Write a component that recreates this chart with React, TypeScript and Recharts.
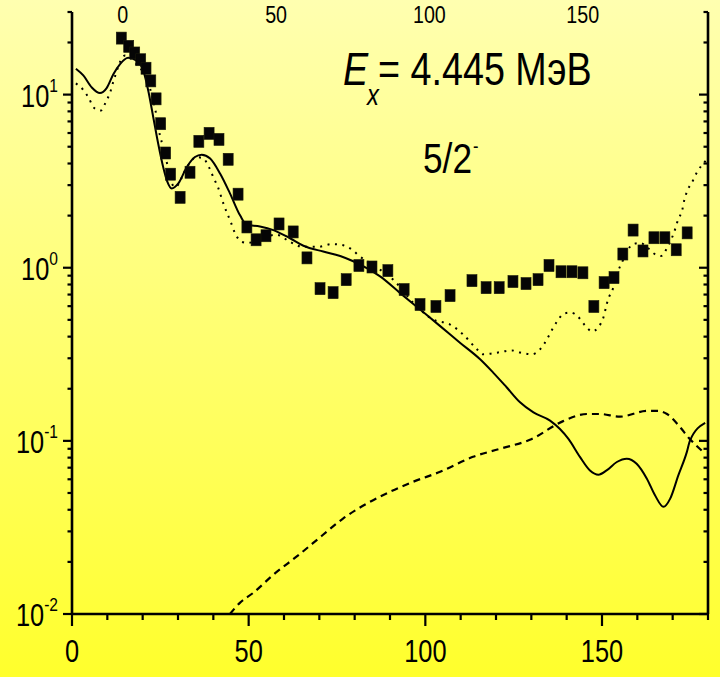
import React from 'react';
import { ComposedChart, Line, Scatter, XAxis, YAxis } from 'recharts';

const FONT = "'Liberation Sans', Arial, sans-serif";

// Experimental cross-section points [angle, value]
const measured: [number, number][] = [
  [13.95, 21.2], [16.05, 19.0], [17.75, 17.4], [19.45, 15.9], [20.95, 14.2], [22.3, 12.0],
  [23.8, 9.45], [25.1, 6.79], [26.5, 4.6], [27.9, 3.47], [30.6, 2.55], [33.4, 3.56],
  [35.9, 5.37], [38.8, 5.97], [41.6, 5.51], [44.2, 4.23], [47.0, 2.66], [49.5, 1.72],
  [52.1, 1.45], [54.9, 1.53], [58.6, 1.79], [62.6, 1.61], [66.5, 1.14], [70.2, 0.757],
  [73.9, 0.718], [77.6, 0.853], [81.2, 1.03], [84.9, 1.01], [89.4, 0.962], [94.0, 0.748],
  [98.5, 0.613], [103.0, 0.597], [107.0, 0.69], [113.2, 0.842], [117.2, 0.767], [120.9, 0.767],
  [124.8, 0.832], [128.5, 0.81], [131.9, 0.853], [135.0, 1.03], [138.4, 0.948], [141.5, 0.948],
  [144.6, 0.935], [147.7, 0.597], [150.6, 0.82], [153.4, 0.877], [155.9, 1.2], [158.8, 1.65],
  [161.6, 1.25], [164.7, 1.49], [167.8, 1.49], [171.0, 1.27], [174.1, 1.59],
];

// Solid curve [angle, value]
const solidCurve: [number, number][] = [
  [1.1, 14.1], [3.2, 12.9], [5.6, 11.0], [7.9, 10.2], [9.8, 10.9], [11.7, 13.1], [13.6, 15.0],
  [15.9, 16.3], [18.3, 15.7], [20.2, 13.7], [21.6, 10.5], [23.0, 7.4], [24.4, 5.2], [25.8, 3.82],
  [27.0, 3.13], [28.2, 2.87], [30.1, 3.07], [32.5, 3.82], [34.8, 4.36], [36.7, 4.5], [39.1, 4.27],
  [41.9, 3.5], [44.7, 2.69], [47.6, 2.0], [49.4, 1.77], [53.2, 1.73], [57.0, 1.65], [61.7, 1.48],
  [65.5, 1.34], [71.1, 1.24], [75.9, 1.17], [79.6, 1.09], [83.4, 0.995], [87.2, 0.891],
  [92.8, 0.716], [98.5, 0.574], [104.2, 0.46], [109.8, 0.369], [115.5, 0.296], [119.2, 0.248],
  [123.0, 0.204], [126.8, 0.167], [130.6, 0.146], [135.3, 0.131], [138.1, 0.117], [140.5, 0.1026],
  [143.8, 0.0806], [146.6, 0.0675], [149.0, 0.0638], [151.3, 0.0675], [154.2, 0.0755],
  [157.0, 0.0789], [159.8, 0.0738], [162.7, 0.0605], [165.0, 0.0485], [167.4, 0.0416],
  [169.3, 0.0464], [171.6, 0.0632], [174.0, 0.0861], [174.9, 0.1004], [179.2, 0.127],
];

// Dotted curve [angle, value]
const dottedCurve: [number, number][] = [
  [1.1, 11.6], [3.1, 10.7], [4.8, 9.5], [6.2, 8.4], [8.2, 8.1], [9.6, 9.1], [10.8, 10.3],
  [11.6, 11.7], [15.0, 16.8], [17.8, 15.3], [22.0, 11.0], [24.0, 7.4], [24.9, 5.8], [25.8, 5.0],
  [26.9, 4.0], [27.7, 3.33], [29.2, 2.92], [32.5, 3.8], [35.1, 4.35], [37.0, 4.3], [38.8, 3.8],
  [40.0, 3.33], [41.3, 2.92], [43.0, 2.3], [45.0, 1.82], [46.1, 1.59], [48.1, 1.41], [49.8, 1.39],
  [53.5, 1.48], [57.9, 1.55], [61.7, 1.41], [65.4, 1.32], [69.6, 1.32], [73.6, 1.37], [75.9, 1.36],
  [79.3, 1.27], [81.5, 1.16], [83.8, 1.08], [87.2, 0.974], [90.9, 0.853], [96.5, 0.63],
  [102.2, 0.502], [107.0, 0.47], [110.7, 0.412], [114.6, 0.338], [116.3, 0.316], [120.6, 0.324],
  [124.5, 0.333], [126.8, 0.324], [130.2, 0.316], [132.5, 0.338], [134.4, 0.386], [135.9, 0.44],
  [137.3, 0.49], [139.3, 0.544], [141.2, 0.551], [143.2, 0.522], [145.2, 0.464], [147.2, 0.429],
  [148.9, 0.452], [150.3, 0.509], [151.7, 0.655], [153.1, 0.757], [154.5, 0.949], [155.7, 1.08],
  [158.8, 1.37], [160.8, 1.39], [162.7, 1.32], [164.4, 1.22], [166.7, 1.17], [168.4, 1.3],
  [169.8, 1.49], [170.7, 1.67], [171.5, 1.89], [172.7, 2.15], [173.3, 2.46], [174.1, 2.77],
  [175.5, 3.12], [176.9, 3.56], [179.5, 4.18],
];

// Dashed curve [angle, value]
const dashedCurve: [number, number][] = [
  [44.7, 0.01], [47.5, 0.0116], [51.2, 0.0132], [56.9, 0.0168], [64.0, 0.0218], [70.8, 0.0284],
  [76.7, 0.0356], [83.5, 0.0435], [90.1, 0.0509], [96.6, 0.0581], [104.2, 0.0663], [113.5, 0.0809],
  [121.1, 0.09], [129.6, 0.1014], [139.0, 0.13], [145.8, 0.143], [149.4, 0.143], [155.1, 0.138],
  [162.8, 0.149], [165.6, 0.149], [168.4, 0.143], [172.1, 0.12], [174.4, 0.105], [178.7, 0.0861],
];

const bottomTicks = [0, 10, 20, 30, 40, 50, 60, 70, 80, 90, 100, 110, 120, 130, 140, 150, 160, 170, 180];
const bottomLabels = [0, 50, 100, 150];
const topLabels = [0, 50, 100, 150];
const yTicks = [
  0.01, 0.02, 0.03, 0.04, 0.05, 0.06, 0.07, 0.08, 0.09,
  0.1, 0.2, 0.3, 0.4, 0.5, 0.6, 0.7, 0.8, 0.9,
  1, 2, 3, 4, 5, 6, 7, 8, 9,
  10, 20, 30,
];

const toRows = (pts: [number, number][]) => pts.map(([x, y]) => ({ x, y }));
const isMajor = (v: number) => {
  const l = Math.log10(v);
  return Math.abs(l - Math.round(l)) < 1e-6;
};

const LeftTick = (props: any) => {
  const { x, y, payload } = props;
  const v = payload.value;
  const major = isMajor(v);
  const exp = Math.round(Math.log10(v));
  return (
    <g>
      <line x1={x - (major ? 9 : 4.5)} y1={y} x2={x} y2={y} stroke="#000" strokeWidth={2.2} />
      {major && (
        <text
          transform={`translate(${x - 14},${y + 12}) scale(0.82,1)`}
          textAnchor="end"
          fontSize={31}
          fontFamily={FONT}
          fill="#000"
        >
          10<tspan fontSize={19} dy={-15}>{exp}</tspan>
        </text>
      )}
    </g>
  );
};

const RightTick = (props: any) => {
  const { x, y, payload } = props;
  const major = isMajor(payload.value);
  return <line x1={x - (major ? 9 : 4.5)} y1={y} x2={x} y2={y} stroke="#000" strokeWidth={2.2} />;
};

const BottomTick = (props: any) => {
  const { x, y, payload } = props;
  const major = bottomLabels.includes(payload.value);
  return (
    <g>
      <line x1={x} y1={y} x2={x} y2={y + (major ? 12 : 6)} stroke="#000" strokeWidth={2.2} />
      {major && (
        <text
          transform={`translate(${x},${y + 48}) scale(0.82,1)`}
          textAnchor="middle"
          fontSize={31}
          fontFamily={FONT}
          fill="#000"
        >
          {payload.value}
        </text>
      )}
    </g>
  );
};

const TopTick = (props: any) => {
  const { x, y, payload } = props;
  return (
    <text
      transform={`translate(${x},${y + 11}) scale(0.82,1)`}
      textAnchor="middle"
      fontSize={24}
      fontFamily={FONT}
      fill="#000"
    >
      {payload.value}
    </text>
  );
};

const Square = (props: any) => {
  const { cx, cy } = props;
  if (cx == null || cy == null) return null;
  return <rect x={cx - 5} y={cy - 6} width={10} height={12} fill="#050505" stroke="#1a1a0a" strokeWidth={0.6} />;
};

export default function App() {
  return (
    <div
      style={{
        position: 'absolute',
        left: 0,
        top: 0,
        width: 720,
        height: 677,
        background: 'linear-gradient(to bottom, #FFFFB0 0%, #FFFF70 50%, #FFFF2C 100%)',
        overflow: 'hidden',
      }}
    >
      <ComposedChart width={720} height={677} margin={{ top: 0, right: 0, bottom: 0, left: 0 }}>
        <XAxis
          xAxisId="bottom"
          orientation="bottom"
          type="number"
          dataKey="x"
          domain={[0, 180]}
          allowDataOverflow
          ticks={bottomTicks}
          interval={0}
          height={63}
          tickSize={0}
          tickMargin={0}
          tickLine={false}
          axisLine={{ stroke: '#000', strokeWidth: 2.6 }}
          tick={BottomTick}
        />
        <XAxis
          xAxisId="top"
          orientation="top"
          type="number"
          dataKey="x"
          domain={[-16.57, 190.87]}
          allowDataOverflow
          ticks={topLabels}
          interval={0}
          height={12}
          tickSize={0}
          tickMargin={0}
          tickLine={false}
          axisLine={false}
          tick={TopTick}
        />
        <YAxis
          yAxisId="left"
          orientation="left"
          scale="log"
          type="number"
          domain={[0.01, 30]}
          allowDataOverflow
          ticks={yTicks}
          interval={0}
          width={72}
          tickSize={0}
          tickMargin={0}
          tickLine={false}
          axisLine={{ stroke: '#000', strokeWidth: 2.6 }}
          tick={LeftTick}
        />
        <YAxis
          yAxisId="right"
          orientation="right"
          scale="log"
          type="number"
          domain={[0.01, 30]}
          allowDataOverflow
          ticks={yTicks}
          interval={0}
          width={12}
          tickSize={0}
          tickMargin={0}
          tickLine={false}
          axisLine={{ stroke: '#000', strokeWidth: 2.6 }}
          tick={RightTick}
        />
        <Line
          xAxisId="top"
          yAxisId="right"
          data={topLabels.map((t) => ({ x: t, y: 1 }))}
          dataKey="y"
          stroke="none"
          dot={false}
          activeDot={false}
          isAnimationActive={false}
        />
        <Line
          xAxisId="bottom"
          yAxisId="left"
          data={toRows(dashedCurve)}
          dataKey="y"
          type="monotone"
          stroke="#000"
          strokeWidth={2.2}
          strokeDasharray="7 5"
          dot={false}
          activeDot={false}
          isAnimationActive={false}
        />
        <Line
          xAxisId="bottom"
          yAxisId="left"
          data={toRows(dottedCurve)}
          dataKey="y"
          type="monotone"
          stroke="#000"
          strokeWidth={2}
          strokeDasharray="2 5.5"
          dot={false}
          activeDot={false}
          isAnimationActive={false}
        />
        <Line
          xAxisId="bottom"
          yAxisId="left"
          data={toRows(solidCurve)}
          dataKey="y"
          type="monotone"
          stroke="#000"
          strokeWidth={2}
          dot={false}
          activeDot={false}
          isAnimationActive={false}
        />
        <Scatter
          xAxisId="bottom"
          yAxisId="left"
          data={toRows(measured)}
          dataKey="y"
          shape={Square}
          isAnimationActive={false}
        />
      </ComposedChart>
      <svg
        width={720}
        height={677}
        style={{ position: 'absolute', left: 0, top: 0, pointerEvents: 'none' }}
      >
        <g fontFamily={FONT} fill="#000">
          <text transform="translate(343,85) scale(0.82,1)" fontSize={46} fontStyle="italic">E</text>
          <text transform="translate(367,105) scale(0.82,1)" fontSize={29} fontStyle="italic">x</text>
          <text transform="translate(378,85) scale(0.82,1)" fontSize={46}>= 4.445 МэВ</text>
          <text transform="translate(423,173) scale(0.82,1)" fontSize={43}>5/2</text>
          <text transform="translate(473,153) scale(0.82,1)" fontSize={20}>-</text>
        </g>
      </svg>
    </div>
  );
}
